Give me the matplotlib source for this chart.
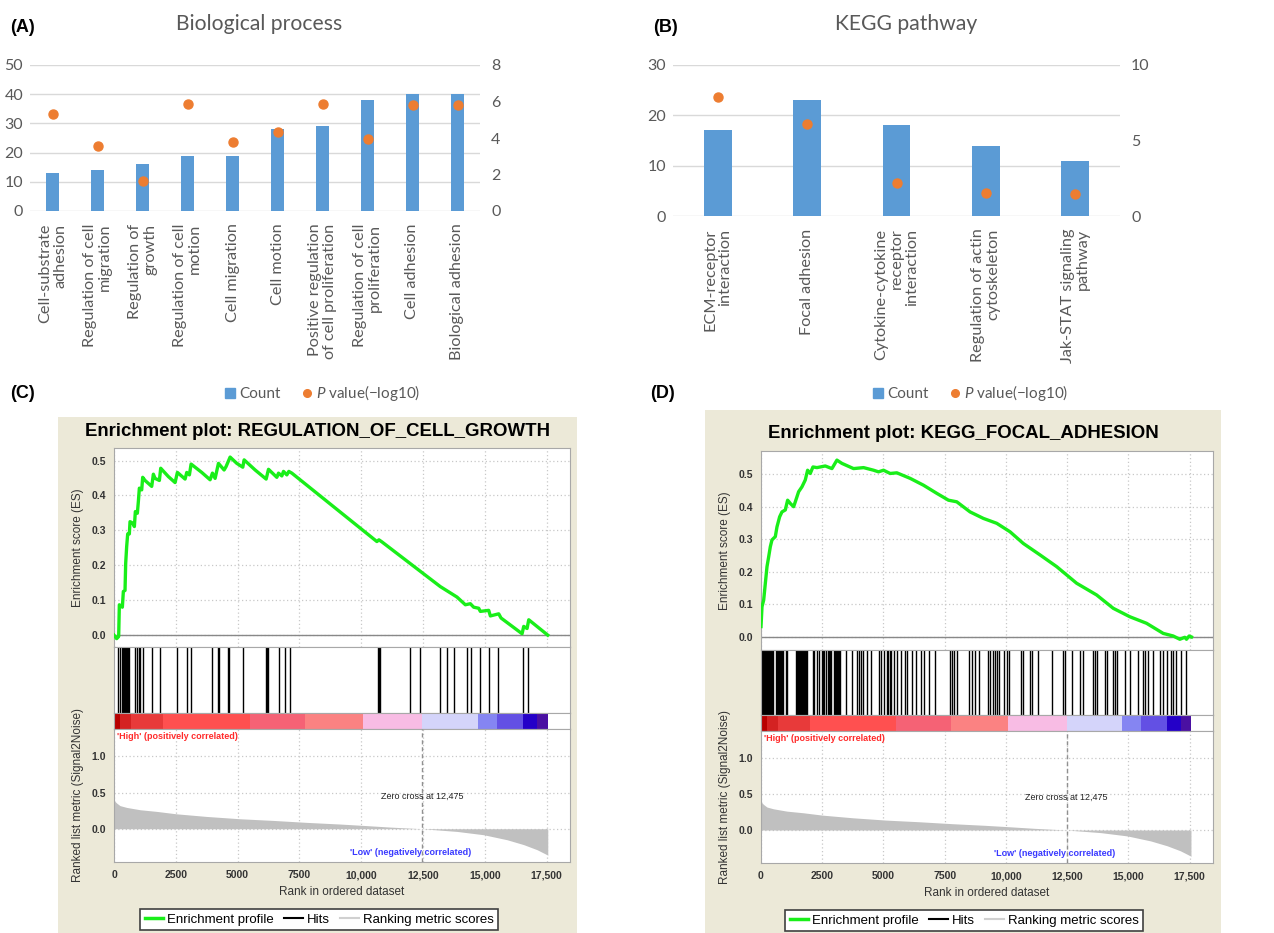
import numpy as np
import matplotlib.pyplot as plt
from matplotlib.patches import Rectangle
from matplotlib.lines import Line2D

plt.rcParams['font.family'] = ['Liberation Sans', 'DejaVu Sans']
plt.rcParams['mathtext.fontset'] = 'custom'
plt.rcParams['mathtext.it'] = 'Lato:italic'
plt.rcParams['mathtext.rm'] = 'Lato'

# ---- (A) Biological process
bp_terms = ['Cell-substrate\nadhesion', 'Regulation of cell\nmigration', 'Regulation of\ngrowth',
            'Regulation of cell\nmotion', 'Cell migration', 'Cell motion',
            'Positive regulation\nof cell proliferation', 'Regulation of cell\nproliferation',
            'Cell adhesion', 'Biological adhesion']
bp_count = [13, 14, 16, 19, 19, 28, 29, 38, 40, 40]
bp_logp = [5.33, 3.54, 1.64, 5.88, 3.76, 4.31, 5.88, 3.93, 5.83, 5.83]

# ---- (B) KEGG pathway
kegg_terms = ['ECM-receptor\ninteraction', 'Focal adhesion', 'Cytokine-cytokine\nreceptor\ninteraction',
              'Regulation of actin\ncytoskeleton', 'Jak-STAT signaling\npathway']
kegg_count = [17, 23, 18, 14, 11]
kegg_logp = [7.9, 6.11, 2.16, 1.54, 1.46]

# ---- GSEA shared ranked list
metric_rank = [0, 40, 108, 243, 513, 1053, 1728, 2511, 3753, 5103, 6453, 7803, 9153,
               10098, 11178, 12475, 13878, 14958, 15903, 16578, 17118, 17523, 17550]
metric_score = [0.41, 0.378, 0.355, 0.32, 0.295, 0.263, 0.24, 0.207, 0.17, 0.138, 0.115, 0.088, 0.065,
                0.046, 0.023, 0.0, -0.037, -0.083, -0.152, -0.22, -0.29, -0.36, -0.37]
bar_edges = [40, 243, 700, 1985, 5508, 7736, 10085, 12474, 14742, 15512, 16565, 17132, 17550]
bar_colors = ['#b80000', '#d42222', '#e83a3a', '#ff5050', '#f56275', '#fb8282', '#f8bce4',
              '#d4d4fa', '#8585f2', '#6350e4', '#2400c8', '#4a10a2']
rank_ticks = [0, 2500, 5000, 7500, 10000, 12500, 15000, 17500]
rank_labels = ['0', '2500', '5000', '7500', '10,000', '12,500', '15,000', '17,500']
zero_cross = 12475

# ---- (C) REGULATION_OF_CELL_GROWTH
c_rank = [0, 108, 189, 216, 338, 378, 446, 473, 513, 554, 621, 648, 756, 824, 864, 945, 986, 1026,
          1121, 1161, 1256, 1526, 1593, 1661, 1836, 1890, 2201, 2471, 2565, 2876, 2943, 3051, 3119,
          3551, 3888, 3983, 4091, 4226, 4455, 4536, 4698, 4968, 5211, 5265, 5711, 6156, 6251, 6588,
          6656, 6791, 6858, 6993, 7074, 7196, 10638, 10719, 10841, 13203, 13878, 14216, 14418,
          14553, 14756, 14823, 15161, 15228, 15566, 15660, 16511, 16578, 16713, 16781, 17550]
c_es = [0, -0.010, -0.004, 0.087, 0.080, 0.125, 0.128, 0.206, 0.254, 0.290, 0.290, 0.325, 0.321,
        0.311, 0.354, 0.349, 0.383, 0.421, 0.416, 0.452, 0.443, 0.426, 0.461, 0.449, 0.443, 0.478,
        0.454, 0.437, 0.466, 0.447, 0.466, 0.459, 0.490, 0.466, 0.445, 0.464, 0.449, 0.492, 0.473,
        0.483, 0.510, 0.492, 0.481, 0.502, 0.473, 0.447, 0.475, 0.452, 0.464, 0.456, 0.469, 0.459,
        0.469, 0.464, 0.268, 0.273, 0.267, 0.139, 0.109, 0.087, 0.090, 0.080, 0.077, 0.068, 0.071,
        0.055, 0.061, 0.049, 0.004, 0.025, 0.019, 0.044, 0.0]
c_hits = [176, 243, 338, 378, 419, 446, 473, 513, 554, 621, 851, 918, 1013, 1053, 1161, 1553, 1863,
          2538, 2943, 3119, 3956, 4199, 4253, 4604, 4671, 5211, 6143, 6183, 6224, 6696, 6899, 7101,
          10665, 10719, 10773, 11961, 12393, 13176, 13473, 13743, 14283, 14445, 14796, 15161,
          15525, 16538, 16740]

# ---- (D) KEGG_FOCAL_ADHESION
d_rank = [0, 41, 109, 177, 245, 313, 380, 448, 584, 652, 761, 856, 992, 1087, 1196, 1332, 1400, 1536,
          1672, 1807, 1903, 2011, 2120, 2283, 2623, 2895, 3099, 3302, 3778, 4186, 4594, 4797, 5001,
          5273, 5545, 6088, 6632, 7175, 7651, 7991, 8534, 9078, 9622, 10165, 10709, 11388, 12068,
          12883, 13699, 14379, 15058, 15738, 16417, 16825, 17096, 17300, 17368, 17477, 17572]
d_es = [0.032, 0.093, 0.113, 0.165, 0.216, 0.246, 0.277, 0.298, 0.308, 0.338, 0.369, 0.384, 0.390,
        0.420, 0.410, 0.400, 0.415, 0.446, 0.461, 0.482, 0.512, 0.502, 0.522, 0.520, 0.525, 0.517,
        0.543, 0.533, 0.517, 0.520, 0.512, 0.507, 0.512, 0.502, 0.504, 0.487, 0.466, 0.441, 0.420,
        0.415, 0.384, 0.364, 0.349, 0.323, 0.287, 0.252, 0.216, 0.165, 0.129, 0.088, 0.062, 0.042,
        0.011, 0.003, -0.007, -0.001, -0.007, 0.003, 0.0]
d_hits = [30, 60, 90, 120, 150, 180, 210, 240, 270, 300, 330, 360, 390, 420, 450, 475,
          615, 645, 675, 705, 735, 765, 795, 825, 855, 880, 1020, 1060,
          1430, 1460, 1490, 1520, 1550, 1580, 1610, 1640, 1670, 1700, 1730, 1760, 1790, 1820, 1850, 1890,
          2103, 2170, 2306, 2374, 2510, 2550, 2590, 2640, 2715, 2760, 2800, 2845,
          2985, 3025, 3065, 3105, 3145, 3185, 3225, 3460, 3731, 3907, 4002, 4070, 4178, 4341, 4504,
          4816, 4900, 5020, 5155, 5200, 5250, 5290, 5426, 5562, 5698, 5861, 5969, 6173, 6308, 6512,
          6648, 6851, 7122, 7706, 7801, 7896, 8004, 8479, 8615, 8750, 8886, 9252, 9334, 9469, 9537,
          9632, 9700, 9903, 10039, 10107, 10609, 10691, 10962, 11057, 11288, 11871, 12346, 12414,
          12685, 13024, 13160, 13567, 13635, 13703, 14042, 14110, 14381, 14449, 14517, 14856,
          15060, 15399, 15602, 15670, 15806, 16010, 16281, 16417, 16552, 16756, 16824, 16960,
          17163, 17366]

W, H = 1274, 933
fig = plt.figure(figsize=(W / 100, H / 100), dpi=100)
BAR_FONT = ['Lato', 'DejaVu Sans']
GREY = '#595959'


def box(l, t, r, b):
    return [l / W, 1 - b / H, (r - l) / W, (b - t) / H]


def bar_panel(rect, terms, counts, logp, cmax, cstep, pmax, pstep, title, title_x, leg_x, tag):
    ax = fig.add_axes(box(*rect))
    x = np.arange(len(terms))
    ax.bar(x, counts, width=0.31, color='#5b9bd5', zorder=2)
    ax.set_xlim(-0.5, len(terms) - 0.5)
    ax.set_ylim(0, cmax)
    ax.set_yticks(np.arange(0, cmax + 1, cstep))
    ax.grid(axis='y', color='#d9d9d9', lw=1)
    ax.set_axisbelow(True)
    for s in ax.spines.values():
        s.set_visible(False)
    ax.set_xticks(x)
    ax.set_xticklabels(terms, rotation=90, ha='center', va='top', ma='right',
                       fontsize=11.7, family=BAR_FONT, color=GREY, linespacing=1.12)
    ax.tick_params(axis='x', length=0, pad=9)
    ax.tick_params(axis='y', length=0, pad=5, labelsize=11.5, labelcolor=GREY)
    for t in ax.get_yticklabels():
        t.set_family(BAR_FONT)

    ax2 = ax.twinx()
    ax2.plot(x, logp, 'o', color='#ed7d31', ms=6.5, zorder=3)
    ax2.set_ylim(0, pmax)
    ax2.set_yticks(np.arange(0, pmax + 1, pstep))
    for s in ax2.spines.values():
        s.set_visible(False)
    ax2.tick_params(axis='y', length=0, pad=8, labelsize=11.5, labelcolor=GREY)
    for t in ax2.get_yticklabels():
        t.set_family(BAR_FONT)

    fig.text(title_x / W, 1 - 24 / H, title, ha='center', va='center', fontsize=15.2,
             family=BAR_FONT, color=GREY)
    fig.text((rect[0] - 20) / W, 1 - 27 / H, tag, ha='left', va='center', fontsize=13,
             fontweight='bold')
    handles = [Line2D([], [], ls='none', marker='s', color='#5b9bd5', ms=7),
               Line2D([], [], ls='none', marker='o', color='#ed7d31', ms=5.5)]
    fig.legend(handles, ['Count', '$P$ value(\u2212log10)'], loc='center',
               bbox_to_anchor=(leg_x / W, 1 - 393 / H), ncol=2, frameon=False,
               prop={'family': BAR_FONT, 'size': 11}, labelcolor=GREY,
               handlelength=0.6, handletextpad=0.3, columnspacing=1.4)


bar_panel((30, 65, 480, 211), bp_terms, bp_count, bp_logp, 50, 10, 8, 2,
          'Biological process', 259, 323, '(A)')
bar_panel((673, 65, 1120, 216), kegg_terms, kegg_count, kegg_logp, 30, 10, 10, 5,
          'KEGG pathway', 906, 971, '(B)')

DOT = (0, (1, 2))


def gsea_panel(frame, L, R, es_top, hit_top, bar_top, met_top, met_bot, es_lim,
               title, title_y, ranks, es, hits, leg_l, leg_t, tag, tag_x):
    fig.patches.append(Rectangle((frame[0] / W, 1 - frame[3] / H), (frame[2] - frame[0]) / W,
                                 (frame[3] - frame[1]) / H, transform=fig.transFigure,
                                 facecolor='#ece9d8', edgecolor='none', zorder=-5))
    fig.text(tag_x / W, 1 - 393 / H, tag, ha='left', va='center', fontsize=13, fontweight='bold')
    fig.text((frame[0] + frame[2]) / 2 / W, 1 - title_y / H, title, ha='center', va='center',
             fontsize=13.4, fontweight='bold')
    xmax = 18450

    # enrichment score
    ax = fig.add_axes(box(L, es_top, R, hit_top))
    ax.plot(ranks, es, color='#19ee19', lw=2.4, zorder=3)
    ax.axhline(0, color='#888888', lw=1, zorder=2)
    ax.set_xlim(0, xmax)
    ax.set_ylim(*es_lim)
    ax.set_xticks(rank_ticks)
    ax.set_xticklabels([])
    ax.set_yticks([0, 0.1, 0.2, 0.3, 0.4, 0.5])
    ax.set_yticklabels(['0.0', '0.1', '0.2', '0.3', '0.4', '0.5'])
    ax.grid(color='#c8c8c8', ls=DOT, lw=0.9)
    ax.tick_params(length=0, pad=6, labelsize=7.5, labelcolor='#333333')
    for t in ax.get_yticklabels():
        t.set_fontweight('bold')
    for s in ax.spines.values():
        s.set_color('#a8a8a8')
    fig.text((L - 36) / W, 1 - (es_top + hit_top) / 2 / H, 'Enrichment score (ES)', rotation=90,
             ha='center', va='center', fontsize=8.5, color='#333333')

    # hits
    axh = fig.add_axes(box(L, hit_top, R, bar_top))
    axh.vlines(hits, 0, 1, color='black', lw=1.0)
    axh.set_xlim(0, xmax)
    axh.set_ylim(0, 1)
    axh.set_xticks([])
    axh.set_yticks([])
    for s in axh.spines.values():
        s.set_color('#a8a8a8')

    # colour bar of ranked list
    axb = fig.add_axes(box(L, bar_top, R, met_top))
    for i, c in enumerate(bar_colors):
        axb.axvspan(bar_edges[i], bar_edges[i + 1], color=c, lw=0)
    axb.set_xlim(0, xmax)
    axb.set_ylim(0, 1)
    axb.set_xticks([])
    axb.set_yticks([])
    for s in axb.spines.values():
        s.set_color('#a8a8a8')

    # ranked list metric
    axm = fig.add_axes(box(L, met_top, R, met_bot))
    axm.fill_between(metric_rank, 0, metric_score, color='#c0c0c0', lw=0, zorder=2)
    axm.axvline(zero_cross, color='#909090', ls=(0, (3, 2)), lw=1, zorder=3)
    axm.set_xlim(0, xmax)
    axm.set_ylim(-0.46, 1.38)
    axm.set_xticks(rank_ticks)
    axm.set_xticklabels(rank_labels)
    axm.set_yticks([0, 0.5, 1.0])
    axm.set_yticklabels(['0.0', '0.5', '1.0'])
    axm.grid(color='#c8c8c8', ls=DOT, lw=0.9)
    axm.tick_params(length=0, pad=6, labelsize=7.5, labelcolor='#333333')
    for t in axm.get_yticklabels() + axm.get_xticklabels():
        t.set_fontweight('bold')
    for s in axm.spines.values():
        s.set_color('#a8a8a8')
    axm.text(110, 1.27, "'High' (positively correlated)", color='#ff2a2a', fontsize=6.5,
             fontweight='bold', ha='left', va='center')
    axm.text(zero_cross, 0.45, 'Zero cross at 12,475', color='#222222', fontsize=6.5,
             ha='center', va='center')
    axm.text(12000, -0.33, "'Low' (negatively correlated)", color='#3a3aff', fontsize=6.5,
             fontweight='bold', ha='center', va='center')
    axm.set_xlabel('Rank in ordered dataset', fontsize=8.5, color='#333333', labelpad=4)
    fig.text((L - 36) / W, 1 - (met_top + met_bot) / 2 / H, 'Ranked list metric (Signal2Noise)',
             rotation=90, ha='center', va='center', fontsize=8.5, color='#333333')

    handles = [Line2D([], [], color='#19ee19', lw=2.5), Line2D([], [], color='black', lw=1.5),
               Line2D([], [], color='#d0d0d0', lw=1.5)]
    leg = fig.legend(handles, ['Enrichment profile', 'Hits', 'Ranking metric scores'],
                     loc='upper left', bbox_to_anchor=(leg_l / W, 1 - leg_t / H), ncol=3,
                     fontsize=9.5, frameon=True, fancybox=False, edgecolor='#404040',
                     framealpha=1, borderpad=0.35, handlelength=1.4, handletextpad=0.3,
                     columnspacing=0.8, borderaxespad=0)
    leg.get_frame().set_linewidth(1.2)


gsea_panel((58, 417, 577, 933), 114, 570, 448, 647, 713, 729, 862, (-0.034, 0.536),
           'Enrichment plot: REGULATION_OF_CELL_GROWTH', 431, c_rank, c_es, c_hits,
           140, 909, '(C)', 10)
gsea_panel((705, 410, 1221, 933), 761, 1213, 451, 650, 715, 731, 863, (-0.040, 0.571),
           'Enrichment plot: KEGG_FOCAL_ADHESION', 433, d_rank, d_es, d_hits,
           785, 910, '(D)', 650)

fig.savefig('out.png', dpi=100)
